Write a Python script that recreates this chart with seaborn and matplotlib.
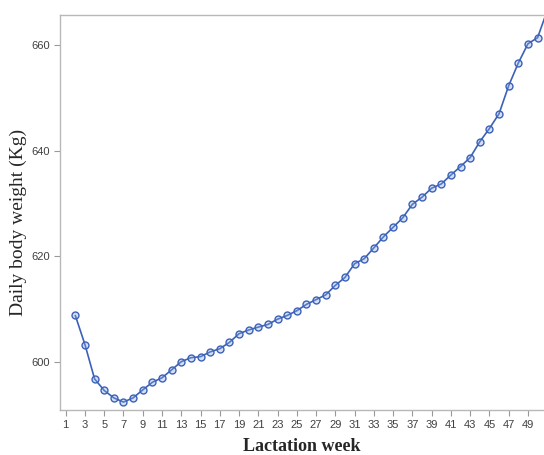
import matplotlib
matplotlib.use("Agg")
import matplotlib.pyplot as plt
import seaborn as sns
import pandas as pd

weeks = list(range(2, 52))
body_weight = [608.8, 603.3, 596.8, 594.6, 593.2, 592.4, 593.2, 594.7, 596.15, 597.0,
               598.5, 600.05, 600.8, 601.0, 601.9, 602.5, 603.7, 605.35, 606.05, 606.6,
               607.1, 608.1, 608.8, 609.7, 610.9, 611.8, 612.7, 614.5, 616.0, 618.6,
               619.55, 621.6, 623.7, 625.5, 627.3, 629.85, 631.2, 632.9, 633.7, 635.4,
               637.0, 638.7, 641.7, 644.2, 647.0, 652.3, 656.6, 660.25, 661.4, 666.5]
x_ticks = list(range(1, 50, 2))
y_ticks = [600, 620, 640, 660]

df = pd.DataFrame({"week": weeks, "weight": body_weight})

sns.set_style("white")
fig = plt.figure(figsize=(5.44, 4.55), dpi=100)
ax = fig.add_axes([60/544, 45/455, 1 - 60/544, 395/455])

sns.lineplot(data=df, x="week", y="weight", ax=ax, color="#3b62b8", linewidth=1.2,
             marker="o", markersize=5, markerfacecolor=(0.55, 0.65, 0.88, 0.35),
             markeredgecolor="#3b62b8", markeredgewidth=1.0)

ax.set_xlim(0.41, 50.67)
ax.set_ylim(590.9, 665.7)
ax.set_xticks(x_ticks)
ax.set_yticks(y_ticks)
ax.set_xticklabels([str(t) for t in x_ticks], fontsize=8, color="#404040", family="Liberation Sans")
ax.set_yticklabels([str(t) for t in y_ticks], fontsize=8, color="#404040", family="Liberation Sans")
ax.tick_params(axis="both", direction="out", length=4, width=0.8, color="#999999", pad=3,
               bottom=True, left=True)

for s in ["left", "bottom", "top"]:
    ax.spines[s].set_color("#b8b8b8")
    ax.spines[s].set_linewidth(1.0)
ax.spines["right"].set_visible(False)

ax.set_xlabel("Lactation week", fontsize=13, fontweight="bold", family="Liberation Serif", labelpad=6)
ax.set_ylabel("Daily body weight (Kg)", fontsize=14, family="Liberation Serif")
ax.yaxis.set_label_coords(-0.068, 0.476)

fig.savefig("out.png", dpi=100)
